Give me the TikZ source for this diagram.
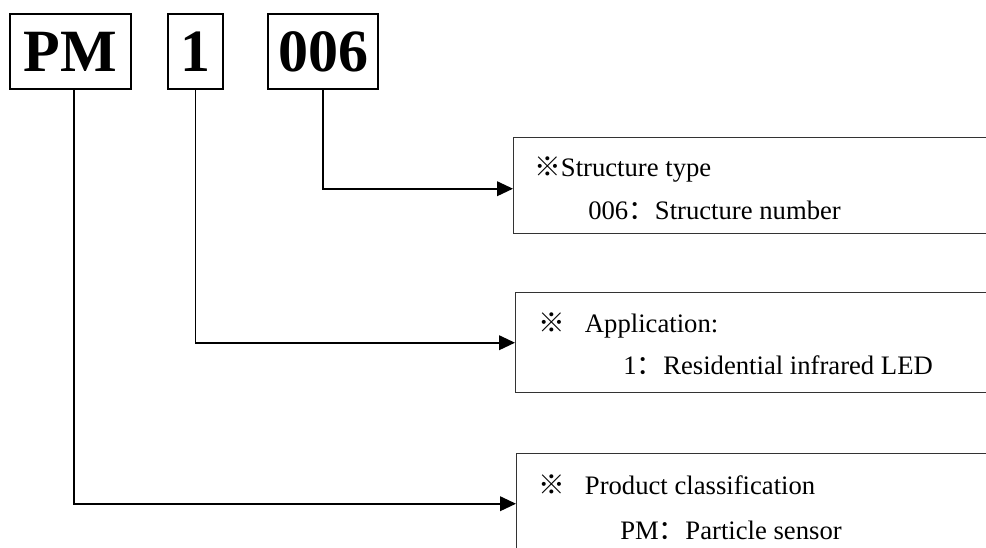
\documentclass[tikz,border=0pt]{standalone}
\usepackage{fontspec}
\setmainfont{Liberation Serif}
\newfontfamily\cjk{Noto Sans CJK SC}
\usetikzlibrary{arrows.meta}
\begin{document}
\begin{tikzpicture}[x=0.75pt,y=-0.75pt,
    code/.style={draw,line width=1.2pt,inner sep=0pt,minimum height=56.25pt,
      font=\fontsize{45}{45}\selectfont\bfseries},
    info/.style={draw,black!80,line width=1.1pt,anchor=north west,inner sep=0pt,
      minimum width=370pt},
    txt/.style={anchor=base west,inner sep=0pt,font=\fontsize{20}{24}\selectfont},
    lead/.style={line width=1.3pt,-{Triangle[length=12pt,width=11pt]}}]
  \clip (0,0) rectangle (986,548);
  % code letters
  \node[code,minimum width=90.75pt] (pm) at (70.5,51.5) {PM};
  \node[code,minimum width=41.25pt] (app) at (195.5,51.5) {1};
  \node[code,minimum width=82.5pt] (num) at (323,51.5) {006};
  % explanation boxes
  \node[info,minimum height=72pt] (sbox) at (513,137) {};
  \node[info,minimum height=75pt] (abox) at (515,292) {};
  \node[info,minimum height=75pt] (pbox) at (516,453) {};
  \node[txt] (stype) at (534,177) {{\cjk ※}Structure type};
  \node[txt] (snum) at (588,220) {006{\cjk ：}Structure number};
  \node[txt] (aname) at (538,333) {{\cjk ※}\hspace{15pt}Application:};
  \node[txt] (anum) at (623,375) {1{\cjk ：}Residential infrared LED};
  \node[txt] (pname) at (538,495) {{\cjk ※}\hspace{15pt}Product classification};
  \node[txt] (pnum) at (620,540) {PM{\cjk ：}Particle sensor};
  % leads
  \draw[lead] (num.south) |- ([yshift=-2.25pt]sbox.west);
  \draw[lead] (app.south) |- (abox.west);
  \draw[lead] ([xshift=2.6pt]pm.south) |- (pbox.west);
\end{tikzpicture}
\end{document}
